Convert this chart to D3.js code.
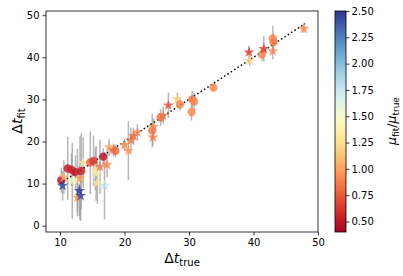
<!DOCTYPE html>
<html><head><meta charset="utf-8">
<script src="https://cdn.jsdelivr.net/npm/d3@7"></script>
<style>body{margin:0;background:#fff}svg{display:block;font-family:"DejaVu Sans",sans-serif}</style>
</head><body><svg id="c" width="403" height="276"></svg>
<script>
const xTrue = [10.2,10.4,10.6,11.2,11.8,11.9,12.4,12.7,12.7,13.0,13.2,13.1,13.3,13.6,14.7,15.2,15.5,15.6,15.8,16.2,16.7,16.9,17.3,17.6,18.3,18.6,20.0,20.6,21.0,21.4,22.0,24.3,24.4,24.5,25.6,26.0,26.8,28.2,28.6,30.4,30.5,30.8,33.8,39.3,39.4,41.3,41.6,43.0,43.1,43.0,47.8];
const yFit  = [10.8,9.5,11.5,13.6,13.3,10.6,12.7,10.8,6.7,8.3,7.1,11.3,13.0,15.0,15.0,15.4,13.4,12.4,10.2,14.0,16.4,9.5,14.5,18.6,18.0,17.8,19.2,17.8,20.3,21.3,22.2,22.6,21.0,23.5,25.7,26.2,28.6,30.1,28.8,27.0,30.0,29.5,32.8,41.2,39.2,40.7,42.0,44.5,43.6,41.5,46.8];
const yErr  = [3,3.5,4,7.5,4,9,4,7.5,4.5,6,6,10,9,6,7.5,6,5,6.5,5,6.5,2,8,3,2,1.5,1.5,1.5,7,3,2,2,4,2,2,2,2,3,1.5,1.5,2,2,2,1,1.5,1.2,1.5,3,3,2,2,1];
const ratio = [0.45,2.45,1.05,0.5,0.55,1.45,0.5,1.4,0.95,2.5,2.45,0.95,0.55,1.3,0.75,0.65,1.3,1.35,1.3,0.85,0.5,1.8,0.9,1.0,0.85,0.8,0.9,0.95,0.85,0.8,0.9,0.85,0.85,0.9,0.8,0.85,0.7,1.15,0.9,0.9,0.85,0.9,0.9,0.65,1.2,0.9,0.65,0.9,0.85,0.9,0.9];
const marker = ["o","*","*","o","o","*","o","*","*","*","*","*","o","*","o","o","*","*","*","*","o","*","*","*","*","o","*","*","*","*","*","o","*","*","o","*","*","*","o","o","o","o","o","*","*","o","*","o","o","*","*"];
const xTicks = [10,20,30,40,50];
const yTicks = [0,10,20,30,40,50];
const cTicks = [0.50,0.75,1.00,1.25,1.50,1.75,2.00,2.25,2.50];

const svg = d3.select("#c");
const L=46,R=318,T=11,B=232;
const x = d3.scaleLinear().domain([7.83,50]).range([L,R]);
const y = d3.scaleLinear().domain([-1.5,51]).range([B,T]);
const cmin=0.4,cmax=2.5;
const color = v => d3.interpolateRdYlBu((v-cmin)/(cmax-cmin));

const data = xTrue.map((d,i)=>({x:d,y:yFit[i],e:yErr[i],r:ratio[i],m:marker[i]}));

// error bars
svg.append("g").selectAll("line").data(data).join("line")
  .attr("x1",d=>x(d.x)).attr("x2",d=>x(d.x))
  .attr("y1",d=>y(d.y-d.e)).attr("y2",d=>y(d.y+d.e))
  .attr("stroke","#999").attr("stroke-opacity",0.7).attr("stroke-width",1.5);

// 1:1 line
svg.append("line").attr("x1",x(10)).attr("y1",y(10)).attr("x2",x(48)).attr("y2",y(48))
  .attr("stroke","#000").attr("stroke-width",1.5).attr("stroke-dasharray","1.5,2.5");

// points
const star = d3.symbol().type(d3.symbolStar).size(40);
const circ = d3.symbol().type(d3.symbolCircle).size(55);
svg.append("g").selectAll("path").data(data).join("path")
  .attr("transform",d=>`translate(${x(d.x)},${y(d.y)})`)
  .attr("d",d=>d.m==="*"?star():circ())
  .attr("fill",d=>color(d.r)).attr("fill-opacity",0.8);

// axes
const ax = svg.append("g").attr("transform",`translate(0,${B})`).call(d3.axisBottom(x).tickValues(xTicks).tickSize(3.5).tickPadding(3));
const ay = svg.append("g").attr("transform",`translate(${L},0)`).call(d3.axisLeft(y).tickValues(yTicks).tickSize(3.5).tickPadding(3));
svg.append("rect").attr("x",L).attr("y",T).attr("width",R-L).attr("height",B-T).attr("fill","none").attr("stroke","#000").attr("stroke-width",0.8);
[ax,ay].forEach(g=>{g.select(".domain").remove();g.selectAll("text").attr("font-size",10).attr("fill","#000").attr("font-family","DejaVu Sans");g.selectAll("line").attr("stroke","#000").attr("stroke-width",0.8);});

// axis labels
svg.append("text").attr("x",182).attr("y",263).attr("text-anchor","middle").attr("font-size",14)
  .html('Δ<tspan font-style="italic">t</tspan><tspan font-size="10" dy="3">true</tspan>');
svg.append("text").attr("transform","translate(22,121) rotate(-90)").attr("text-anchor","middle").attr("font-size",14)
  .html('Δ<tspan font-style="italic">t</tspan><tspan font-size="10" dy="3">fit</tspan>');

// colorbar
const cx0=335,cw=11;
const cy = d3.scaleLinear().domain([cmin,cmax]).range([B,T]);
const defs = svg.append("defs");
const grad = defs.append("linearGradient").attr("id","cg").attr("x1",0).attr("y1",1).attr("x2",0).attr("y2",0);
d3.range(0,1.0001,0.05).forEach(t=>grad.append("stop").attr("offset",t).attr("stop-color",d3.interpolateRdYlBu(t)));
svg.append("rect").attr("x",cx0).attr("y",T).attr("width",cw).attr("height",B-T).attr("fill","url(#cg)").attr("stroke","#000").attr("stroke-width",0.8);
const ac = svg.append("g").attr("transform",`translate(${cx0+cw},0)`).call(d3.axisRight(cy).tickValues(cTicks).tickFormat(d3.format(".2f")).tickSize(3.5).tickPadding(2));
ac.select(".domain").remove();
ac.selectAll("text").attr("font-size",10).attr("fill","#000").attr("font-family","DejaVu Sans");
ac.selectAll("line").attr("stroke","#000").attr("stroke-width",0.8);
svg.append("text").attr("transform","translate(396,121) rotate(-90)").attr("text-anchor","middle").attr("font-size",12.5)
  .html('<tspan font-style="italic">μ</tspan><tspan font-size="9" dy="2.5">fit</tspan><tspan dy="-2.5">/</tspan><tspan font-style="italic">μ</tspan><tspan font-size="9" dy="2.5">true</tspan>');
</script></body></html>
